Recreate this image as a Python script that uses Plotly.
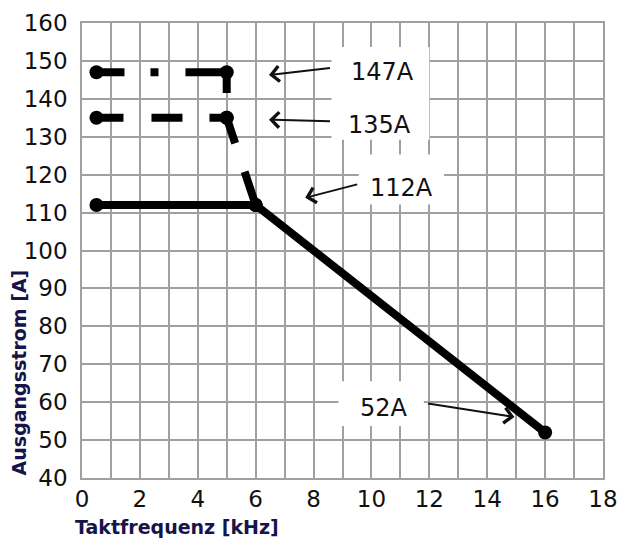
import plotly.graph_objects as go

# Taktfrequenz [kHz] / Ausgangsstrom [A]
freq_147 = [0.5, 5, 5]
amp_147 = [147, 147, 135]

freq_135 = [0.5, 5, 6]
amp_135 = [135, 135, 112]

freq_112 = [0.5, 6, 16]
amp_112 = [112, 112, 52]

# Beschriftungen: Text, Textposition, Pfeil-Start, Pfeil-Spitze
labels = ["147A", "135A", "112A", "52A"]
label_x = [10.39, 10.27, 11.05, 10.42]
label_y = [147.1, 133.2, 116.6, 58.4]
tail_x = [8.62, 8.62, 9.56, 11.9]
tail_y = [148.2, 134.1, 117.55, 59.7]
tip_x = [6.46, 6.46, 7.71, 14.94]
tip_y = [146.3, 134.5, 113.9, 56.1]

GRID = "#a0a0a0"
TXT = "#111111"
TITLE = "#15154a"

fig = go.Figure()

fig.add_trace(go.Scatter(
    x=freq_147, y=amp_147, mode="lines+markers",
    line=dict(color="black", width=8, dash="28px,26px,8px,27px,62px,200px"),
    marker=dict(color="black", size=14),
))
fig.add_trace(go.Scatter(
    x=freq_135, y=amp_135, mode="lines+markers",
    line=dict(color="black", width=8, dash="27px,28px,31px,27px,44px,30px,40px,20px"),
    marker=dict(color="black", size=14),
))
fig.add_trace(go.Scatter(
    x=freq_112, y=amp_112, mode="lines+markers",
    line=dict(color="black", width=8),
    marker=dict(color="black", size=14),
))

# weisse Hintergruende hinter den Beschriftungen
boxes = [(8.62, 12.0, 129.2, 153.7), (9.56, 12.51, 112.1, 125.3), (8.86, 11.81, 53.7, 65.5)]
for x0, x1, y0, y1 in boxes:
    fig.add_shape(type="rect", xref="x", yref="y", x0=x0, x1=x1, y0=y0, y1=y1,
                  fillcolor="white", line=dict(width=0), layer="between")

for i in range(len(labels)):
    fig.add_annotation(x=label_x[i], y=label_y[i], text=labels[i], showarrow=False,
                       font=dict(family="DejaVu Sans", size=24, color=TXT))
    fig.add_annotation(x=tip_x[i], y=tip_y[i], ax=tail_x[i], ay=tail_y[i],
                       axref="x", ayref="y", text="", showarrow=True,
                       arrowhead=4, arrowsize=1.5, arrowwidth=2, arrowcolor=TXT)

fig.add_annotation(xref="paper", yref="paper", x=-0.121, y=0.232, text="<b>Ausgangsstrom [A]</b>",
                   textangle=-90, showarrow=False, xanchor="center", yanchor="middle",
                   font=dict(family="DejaVu Sans", size=19, color=TITLE))
fig.add_annotation(xref="paper", yref="paper", x=-0.017, y=-0.108, text="<b>Taktfrequenz [kHz]</b>",
                   showarrow=False, xanchor="left", yanchor="middle",
                   font=dict(family="DejaVu Sans", size=19, color=TITLE))

fig.update_xaxes(range=[0, 18], dtick=2, tick0=0, showgrid=True, gridcolor=GRID, gridwidth=1.5,
                 minor=dict(dtick=1, showgrid=True, gridcolor=GRID, gridwidth=1.5),
                 showline=True, linecolor=GRID, linewidth=1.5, mirror=True, zeroline=False,
                 tickfont=dict(family="DejaVu Sans", size=23, color=TXT), ticks="",
                 automargin=False)
fig.update_yaxes(range=[40, 160], dtick=10, tick0=40, showgrid=True, gridcolor=GRID, gridwidth=1.5,
                 showline=True, linecolor=GRID, linewidth=1.5, mirror=True, zeroline=False,
                 tickfont=dict(family="DejaVu Sans", size=23, color=TXT), ticks="",
                 ticklabelstandoff=8, automargin=False)

fig.update_layout(
    width=620, height=540,
    margin=dict(l=82, r=17, t=23, b=62),
    paper_bgcolor="white", plot_bgcolor="white",
    showlegend=False,
)

# ohne Seitenrand, damit die Abbildung genau ins Fenster passt
fig.write_html("out.html", config={"displayModeBar": False},
               post_script="document.body.style.margin='0';document.body.style.overflow='hidden';")
